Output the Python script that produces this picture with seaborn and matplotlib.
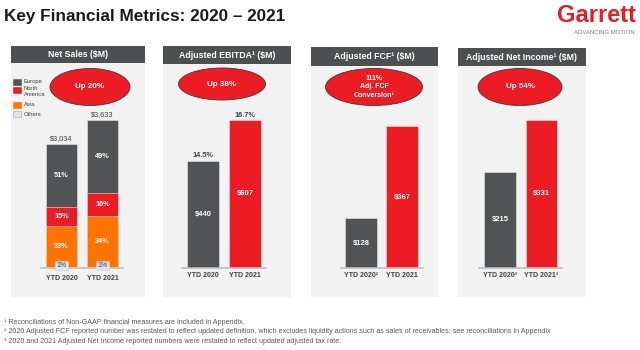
import matplotlib
matplotlib.use("Agg")
import seaborn as sns
import matplotlib.pyplot as plt
from matplotlib.patches import Rectangle, Ellipse

sns.set_style("white")
plt.rcParams['font.family'] = ['Liberation Sans', 'DejaVu Sans']

# ------ data ------ #
years = ["YTD 2020", "YTD 2021"]
sales_total = [3034, 3633]
region_names = ["Europe", "North\nAmerica", "Asia", "Others"]
europe_pct = [51, 49]
north_america_pct = [15, 16]
asia_pct = [33, 34]
others_pct = [1, 1]

ebitda = [440, 607]
ebitda_margin = ["14.5%", "16.7%"]
fcf = [128, 367]
fcf_labels = ["YTD 2020²", "YTD 2021"]
net_income = [215, 331]
net_income_labels = ["YTD 2020³", "YTD 2021³"]

GRAY = "#515355"
RED = "#ec1c24"
ORANGE = "#ff7400"
OTHERS = "#dbe5f0"
PANEL = "#f2f2f2"
TXT = "#404040"

W, H = 640, 350
BASE = 268

fig = plt.figure(figsize=(6.4, 3.5), dpi=100, facecolor="w")


def px_rect(x0, y0, x1, y1):
    return [x0 / W, 1 - y1 / H, (x1 - x0) / W, (y1 - y0) / H]


# overlay in pixel coords for panels, headers, ellipses, texts
deco = fig.add_axes([0, 0, 1, 1])
deco.set_xlim(0, W)
deco.set_ylim(H, 0)
deco.axis("off")

deco.text(4, 17, "Key Financial Metrics: 2020 – 2021", fontsize=12.3,
          fontweight="bold", color="#1a1a1a", va="center", ha="left")
deco.text(636, 15, "Garrett", fontsize=17, color="#e31e24", fontweight="bold",
          family=["Liberation Sans Narrow", "Liberation Sans"],
          va="center", ha="right")
deco.text(635, 32, "ADVANCING MOTION", fontsize=4.3,
          color="#7f7f7f", va="center", ha="right")

panels = [
    (11, 145, 46, 63, "Net Sales ($M)"),
    (163, 291, 46, 64, "Adjusted EBITDA¹ ($M)"),
    (311, 438, 47, 66, "Adjusted FCF¹ ($M)"),
    (458, 586, 48, 66, "Adjusted Net Income¹ ($M)"),
]
for x0, x1, y0, y1, title in panels:
    deco.add_patch(Rectangle((x0, y0), x1 - x0, 297 - y0, color=PANEL, lw=0))
    deco.add_patch(Rectangle((x0, y0), x1 - x0, y1 - y0, color="#4e4f51", lw=0))
    deco.text((x0 + x1) / 2, (y0 + y1) / 2, title, color="w", fontsize=6.3,
              fontweight="bold", ha="center", va="center")

bubbles = [
    (90, 87, 80, 37, "Up 20%"),
    (222, 84, 87, 32, "Up 38%"),
    (374, 87, 97, 37, "111%\nAdj. FCF\nConversion¹"),
    (520, 87, 84, 37, "Up 54%"),
]
for cx, cy, bw, bh, txt in bubbles:
    deco.add_patch(Ellipse((cx, cy), bw, bh, facecolor=RED,
                           edgecolor="#3a3a3a", lw=0.6))
    deco.text(cx, cy, txt, color="w", fontsize=5.8 if "\n" not in txt else 5,
              fontweight="bold", ha="center", va="center", linespacing=1.3)

# legend of net sales
legend_colors = [GRAY, RED, ORANGE, OTHERS]
legend_y = [82, 90, 105, 114]
for name, col, ly in zip(region_names, legend_colors, legend_y):
    deco.add_patch(Rectangle((13, ly - 3), 8, 6, facecolor=col,
                             edgecolor="#9aa5b1" if col == OTHERS else col, lw=0.4))
    deco.text(24, ly - 3.5 if "\n" in name else ly, name, fontsize=4.2,
              color=TXT, va="top" if "\n" in name else "center",
              linespacing=1.0)

footnotes = [
    "¹ Reconciliations of Non-GAAP financial measures are included in Appendix.",
    "² 2020 Adjusted FCF reported number was restated to reflect updated definition, "
    "which excludes liquidity actions such as sales of receivables; see reconciliations in Appendix",
    "³ 2020 and 2021 Adjusted Net Income reported numbers were restated to reflect updated adjusted tax rate.",
]
for i, fn in enumerate(footnotes):
    deco.text(4, 322 + 9.8 * i, fn, fontsize=5.1, color="#595959",
              va="center", ha="left")


def bar_axes(c0, c1, top_px, vmax):
    d = c1 - c0
    ax = fig.add_axes(px_rect(c0 - d / 2, top_px, c1 + d / 2, BASE))
    ax.set_facecolor("none")
    return ax


def finish(ax, vmax, labels, pad):
    ax.set_xlim(-0.5, 1.5)
    ax.set_ylim(0, vmax)
    ax.set_xticks([0, 1])
    ax.set_xticklabels(labels, fontsize=5, fontweight="bold", color=TXT)
    ax.tick_params(axis="x", length=0, pad=pad)
    ax.set_yticks([])
    ax.set_xlabel("")
    ax.set_ylabel("")
    for s in ["top", "right", "left"]:
        ax.spines[s].set_visible(False)
    ax.spines["bottom"].set_color("#bfbfbf")
    ax.spines["bottom"].set_linewidth(1.2)


# ------ net sales stacked ------ #
ax1 = bar_axes(61.5, 102.5, 120, max(sales_total))
seg_pcts = [others_pct, asia_pct, north_america_pct, europe_pct]
seg_cols = [OTHERS, ORANGE, RED, GRAY]
cums = []
run = [0, 0]
for pct in seg_pcts:
    lo = run[:]
    run = [r + p * t / 100 for r, p, t in zip(run, pct, sales_total)]
    cums.append((lo, run[:]))
for (lo, hi), col in reversed(list(zip(cums, seg_cols))):
    sns.barplot(x=years, y=hi, color=col, saturation=1, width=0.76,
                edgecolor="#e6e6e6", linewidth=0.4, ax=ax1)
for pct, (lo, hi) in zip(seg_pcts[1:], cums[1:]):
    for i in range(2):
        ax1.text(i, (lo[i] + hi[i]) / 2, f"{pct[i]}%", color="w", fontsize=5.3,
                 fontweight="bold", ha="center", va="center")
for i in range(2):
    ax1.text(i, cums[0][1][i] + 20, f"{others_pct[i]}%", color=TXT, fontsize=5,
             ha="center", va="center",
             bbox=dict(boxstyle="square,pad=0.15", fc=OTHERS, ec="#c9d3de", lw=0.4))
    ax1.annotate(f"${sales_total[i]:,}", (i, sales_total[i]), xytext=(0, 1.5),
                 textcoords="offset points", ha="center", va="bottom",
                 fontsize=5.3, color=TXT)
finish(ax1, max(sales_total), years, 5)

# ------ simple bars ------ #
simple = [
    (203, 245, 120, ebitda, years, ebitda_margin),
    (361, 402, 126, fcf, fcf_labels, None),
    (500, 541.5, 120, net_income, net_income_labels, None),
]
for c0, c1, top, vals, labels, tops in simple:
    ax = bar_axes(c0, c1, top, max(vals))
    sns.barplot(x=years, y=vals, hue=years, palette=[GRAY, RED], legend=False,
                saturation=1, width=0.76, edgecolor="#e6e6e6", linewidth=0.4, ax=ax)
    for i, v in enumerate(vals):
        ax.text(i, v / 2, f"${v}", color="w", fontsize=5.5, fontweight="bold",
                ha="center", va="center")
        if tops:
            ax.annotate(tops[i], (i, v), xytext=(0, 1), textcoords="offset points",
                        ha="center", va="bottom", fontsize=5.3,
                        fontweight="bold", color=TXT)
    finish(ax, max(vals), labels, 3)

fig.savefig("out.png", dpi=100, facecolor="w")
